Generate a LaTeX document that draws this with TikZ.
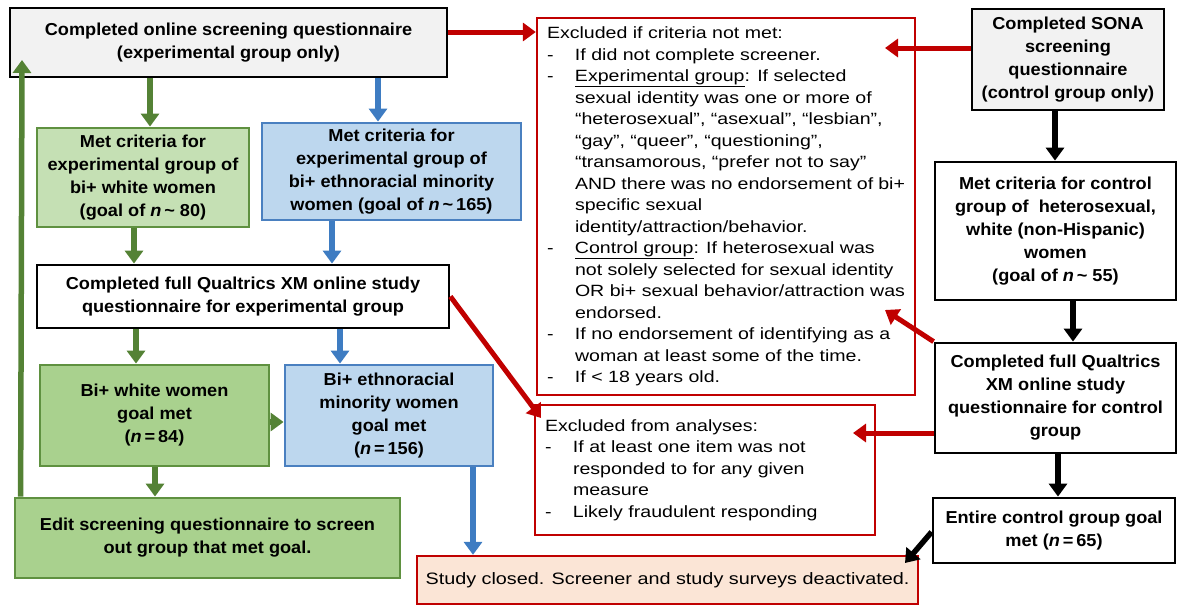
\documentclass[tikz,border=0pt]{standalone}
\usepackage{fontspec}
\setmainfont[FakeStretch=1.2]{Liberation Sans}
\newfontfamily\boxfont[FakeStretch=1.05]{Liberation Sans}
\usetikzlibrary{arrows.meta}
\definecolor{grayfill}{HTML}{F2F2F2}
\definecolor{lgreen}{HTML}{C5E0B4}
\definecolor{mgreen}{HTML}{A9D18E}
\definecolor{gborder}{HTML}{5F9140}
\definecolor{garrowc}{HTML}{548235}
\definecolor{lblue}{HTML}{BDD7EE}
\definecolor{bborder}{HTML}{4A80C0}
\definecolor{barrowc}{HTML}{3E7CC2}
\definecolor{dred}{HTML}{C00000}
\definecolor{peach}{HTML}{FBE5D6}
\newcommand{\dl}[1]{\makebox[28pt][l]{-}#1}
\newcommand{\cl}[1]{\hspace*{28pt}#1}
\newcommand{\tl}{\textasciitilde}
\tikzset{
  basebox/.style={draw, line width=2.8pt, inner sep=0pt, align=center,
    font=\boxfont\bfseries\fontsize{17.3}{23}\selectfont},
  graybox/.style={basebox, fill=grayfill, draw=black},
  whitebox/.style={basebox, fill=white, draw=black},
  lgbox/.style={basebox, fill=lgreen, draw=gborder},
  mgbox/.style={basebox, fill=mgreen, draw=gborder},
  bluebox/.style={basebox, fill=lblue, draw=bborder},
  exclbox/.style={draw=dred, line width=2.3pt, fill=white, align=left, inner xsep=10pt, inner ysep=3pt,
    font=\fontsize{16.3}{21.5}\selectfont},
  studybox/.style={draw=dred, line width=2.3pt, fill=peach, align=center, inner sep=0pt,
    font=\fontsize{16.5}{21.5}\selectfont},
  arr/.style={line width=5.5pt, -{Triangle[width=18pt,length=13pt]}},
  garr/.style={arr, draw=garrowc, color=garrowc},
  barr/.style={arr, draw=barrowc, color=barrowc},
  rarr/.style={arr, line width=5pt, draw=dred, color=dred},
  karr/.style={arr, draw=black, color=black},
}
\begin{document}
\begin{tikzpicture}[x=1pt,y=-1pt]
\useasboundingbox (0,0) rectangle (1179,605);
% left column
\node[graybox, minimum width=437pt, minimum height=69pt] (A) at (228.5,42.5)
  {Completed online screening questionnaire\\(experimental group only)};
\node[lgbox, minimum width=212pt, minimum height=99pt] (B1) at (143,177.5)
  {Met criteria for\\experimental group of\\bi+ white women\\(goal of \textit{n}\,\tl\ 80)};
\node[bluebox, minimum width=259pt, minimum height=97pt] (B2) at (391.5,171.5)
  {Met criteria for\\experimental group of\\bi+ ethnoracial minority\\women (goal of \textit{n}\,\tl\,165)};
\node[whitebox, minimum width=412pt, minimum height=63pt] (C) at (243,296.5)
  {Completed full Qualtrics XM online study\\questionnaire for experimental group};
\node[mgbox, minimum width=229pt, minimum height=101pt] (D1) at (154.5,415.5)
  {Bi+ white women\\goal met\\(\textit{n}\,=\,84)};
\node[bluebox, minimum width=208pt, minimum height=101pt] (D2) at (389,415.5)
  {Bi+ ethnoracial\\minority women\\goal met\\(\textit{n}\,=\,156)};
\node[mgbox, minimum width=385pt, minimum height=80pt] (E) at (207.5,538)
  {Edit screening questionnaire to screen\\out group that met goal.};
% right column
\node[graybox, minimum width=192pt, minimum height=101pt] (S) at (1068,59.5)
  {Completed SONA\\screening\\questionnaire\\(control group only)};
\node[whitebox, minimum width=241pt, minimum height=138pt] (CC) at (1055.5,231)
  {Met criteria for control\\group of\ \ heterosexual,\\white (non-Hispanic)\\women\\(goal of \textit{n}\,\tl\ 55)};
\node[whitebox, minimum width=241pt, minimum height=110pt] (CQ) at (1055.5,398)
  {Completed full Qualtrics\\XM online study\\questionnaire for control\\group};
\node[whitebox, minimum width=242pt, minimum height=65pt] (CE) at (1054,530.5)
  {Entire control group goal\\met (\textit{n}\,=\,65)};
% exclusion boxes
\node[exclbox, minimum width=378pt, minimum height=377pt] (X1) at (726,206.5)
  {\begin{minipage}[c]{358pt}\raggedright
   Excluded if criteria not met:\\
   \dl{If did not complete screener.}\\
   \dl{\underline{Experimental group}: If selected}\\
   \cl{sexual identity was one or more of}\\
   \cl{“heterosexual”, “asexual”, “lesbian”,}\\
   \cl{“gay”, “queer”, “questioning”,}\\
   \cl{“transamorous, “prefer not to say”}\\
   \cl{AND there was no endorsement of bi+}\\
   \cl{specific sexual}\\
   \cl{identity/attraction/behavior.}\\
   \dl{\underline{Control group}: If heterosexual was}\\
   \cl{not solely selected for sexual identity}\\
   \cl{OR bi+ sexual behavior/attraction was}\\
   \cl{endorsed.}\\
   \dl{If no endorsement of identifying as a}\\
   \cl{woman at least some of the time.}\\
   \dl{If < 18 years old.}
   \end{minipage}};
\node[exclbox, minimum width=340pt, minimum height=130pt] (X2) at (705,470)
  {\begin{minipage}[c]{320pt}\raggedright
   Excluded from analyses:\\
   \dl{If at least one item was not}\\
   \cl{responded to for any given}\\
   \cl{measure}\\
   \dl{Likely fraudulent responding}
   \end{minipage}};
\node[studybox, minimum width=501pt, minimum height=48pt] (SC) at (667.5,580)
  {Study closed. Screener and study surveys deactivated.};
% coordinates for free ends
\coordinate (loopTip) at (22,60);
\coordinate (sTip) at (885,48);
\coordinate (cqTip) at (885,310);
\coordinate (cTip) at (541,418);
\coordinate (cqTip2) at (853,433);
\coordinate (ceTip) at (905,563);
% green / blue arrows
\draw[garr] (A.south -| 150,0) -- (B1.north -| 150,0);
\draw[barr] (A.south -| 378,0) -- (B2.north -| 378,0);
\draw[garr] (B1.south -| 134,0) -- (C.north -| 134,0);
\draw[barr] (B2.south -| 332,0) -- (C.north -| 332,0);
\draw[garr] (C.south -| 136,0) -- (D1.north -| 136,0);
\draw[barr] (C.south -| 340,0) -- (D2.north -| 340,0);
\draw[garr] ([yshift=-6.5pt]D1.east) -- ([yshift=-6.5pt]D1.east -| D2.west);
\draw[garr] (D1.south -| 155,0) -- (E.north -| 155,0);
\draw[garr] ([xshift=7pt]E.north west) -- (loopTip);
\draw[barr] (D2.south -| 473,0) -- (SC.north -| 473,0);
% red arrows
\draw[rarr] ([yshift=10.5pt]A.east) -- ([yshift=10.5pt]A.east -| X1.west);
\draw[rarr] ([yshift=11.5pt]S.west) -- (sTip);
\draw[rarr] (CQ.north west) -- (cqTip);
\draw[rarr] (C.east) -- (cTip);
\draw[rarr] ([yshift=-35pt]CQ.west) -- (cqTip2);
% black arrows
\draw[karr] (S.south -| 1055,0) -- (CC.north -| 1055,0);
\draw[karr] (CC.south -| 1073,0) -- (CQ.north -| 1073,0);
\draw[karr] (CQ.south -| 1058,0) -- (CE.north -| 1058,0);
\draw[karr] ([yshift=-1.5pt]CE.west) -- (ceTip);
\end{tikzpicture}
\end{document}
